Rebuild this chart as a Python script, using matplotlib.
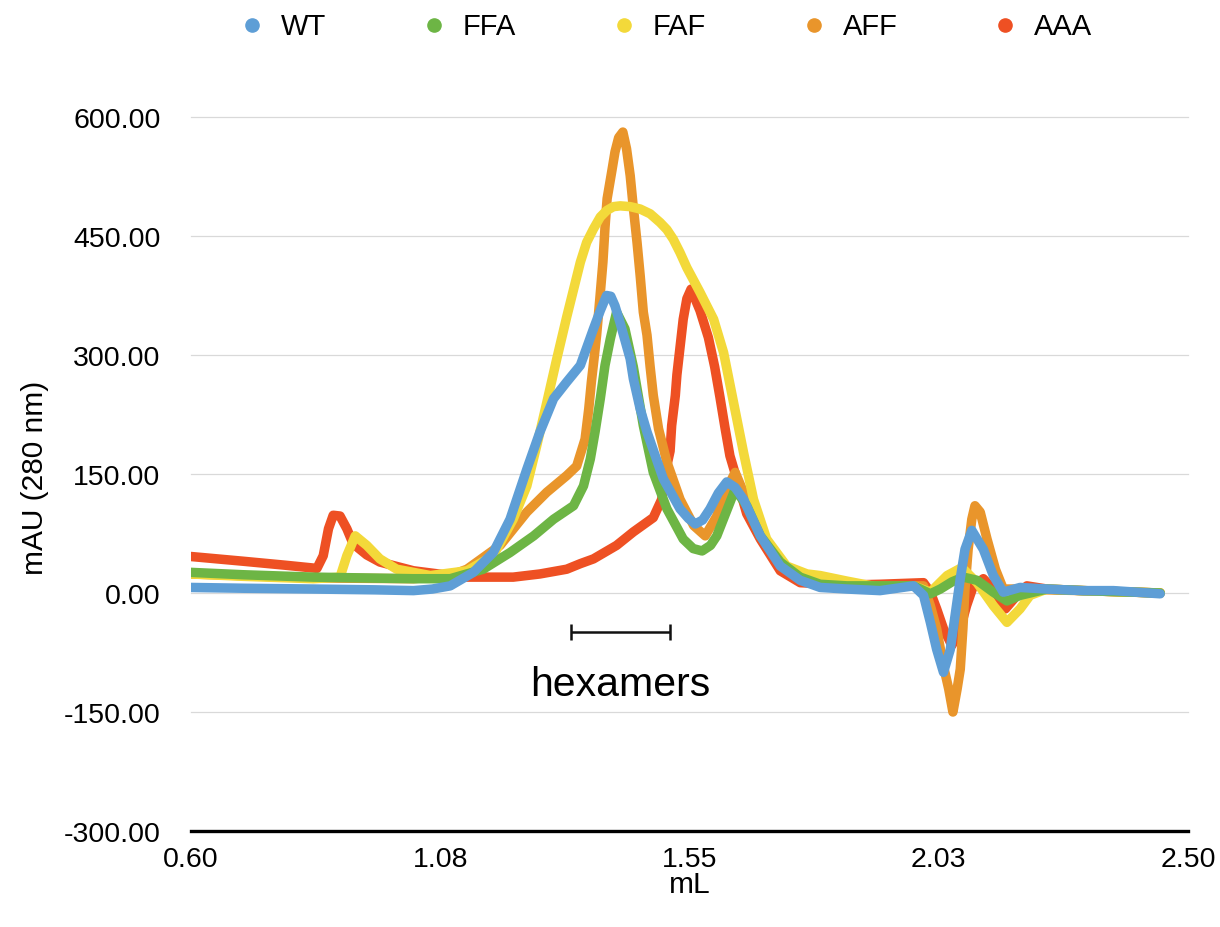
import matplotlib
matplotlib.use("Agg")
import matplotlib.pyplot as plt
from matplotlib.lines import Line2D

# ---------------- data ----------------
wt_x = [0.600, 0.700, 0.833, 0.950, 1.024, 1.060, 1.094, 1.138, 1.176, 1.208, 1.240, 1.265,
        1.291, 1.316, 1.342, 1.367, 1.380, 1.392, 1.400, 1.408, 1.418, 1.437, 1.443, 1.456,
        1.469, 1.500, 1.532, 1.548, 1.561, 1.575, 1.589, 1.605, 1.621, 1.637, 1.653, 1.685,
        1.723, 1.761, 1.799, 1.850, 1.913, 1.977, 1.996, 2.009, 2.021, 2.034, 2.047, 2.056,
        2.066, 2.075, 2.088, 2.110, 2.129, 2.148, 2.180, 2.231, 2.300, 2.358, 2.447]
wt_y = [7, 6, 5, 4, 3, 5, 9, 26, 51, 93, 156, 203,
        245, 266, 287, 333, 356, 375, 374, 362, 340, 295, 270, 232,
        203, 144, 106, 94, 87, 92, 106, 126, 140, 133, 118, 72,
        34, 16, 7, 5, 3, 9, -3, -37, -71, -100, -71, -29,
        18, 55, 79, 55, 22, 1, 7, 5, 3, 3, -1]

ffa_x = [0.600, 0.700, 0.833, 1.024, 1.094, 1.157, 1.208, 1.253, 1.291, 1.329, 1.348, 1.361,
         1.370, 1.380, 1.389, 1.399, 1.411, 1.427, 1.443, 1.462, 1.481, 1.507, 1.538, 1.557,
         1.574, 1.590, 1.602, 1.627, 1.637, 1.659, 1.685, 1.723, 1.761, 1.799, 1.850, 1.913,
         1.977, 2.009, 2.028, 2.050, 2.072, 2.098, 2.129, 2.155, 2.180, 2.231, 2.300, 2.447]
ffa_y = [26, 23, 20, 18, 18, 30, 51, 72, 93, 110, 135, 169,
         203, 245, 287, 320, 354, 333, 285, 211, 152, 106, 68, 56,
         53, 60, 72, 114, 131, 110, 72, 39, 20, 11, 9, 9,
         9, -1, 5, 14, 20, 16, 1, -10, -3, 5, 3, 0]

faf_x = [0.600, 0.700, 0.833, 0.884, 0.897, 0.913, 0.935, 0.960, 0.992, 1.056, 1.126, 1.176,
         1.214, 1.240, 1.259, 1.278, 1.297, 1.316, 1.342, 1.354, 1.367, 1.380, 1.392, 1.405,
         1.418, 1.437, 1.456, 1.475, 1.494, 1.507, 1.519, 1.532, 1.545, 1.570, 1.596, 1.615,
         1.634, 1.653, 1.672, 1.697, 1.735, 1.774, 1.799, 1.850, 1.913, 1.977, 2.009, 2.041,
         2.069, 2.098, 2.129, 2.155, 2.180, 2.199, 2.231, 2.300, 2.447]
faf_y = [24, 21, 18, 20, 47, 72, 60, 43, 30, 22, 28, 47,
         93, 135, 186, 240, 295, 348, 417, 442, 459, 474, 482, 487,
         488, 487, 484, 478, 467, 458, 446, 429, 410, 379, 345, 303,
         240, 177, 118, 68, 34, 24, 22, 15, 7, 9, 1, 22,
         32, 13, -16, -37, -20, -3, 5, 3, 0]

aff_x = [0.600, 0.833, 1.024, 1.094, 1.126, 1.189, 1.240, 1.278, 1.316, 1.335, 1.351, 1.358,
         1.363, 1.368, 1.373, 1.379, 1.385, 1.389, 1.393, 1.402, 1.408, 1.415, 1.423, 1.430,
         1.437, 1.442, 1.450, 1.456, 1.462, 1.469, 1.475, 1.481, 1.491, 1.507, 1.532, 1.558,
         1.580, 1.602, 1.621, 1.637, 1.653, 1.672, 1.697, 1.735, 1.774, 1.850, 1.913, 1.996,
         2.009, 2.021, 2.034, 2.044, 2.052, 2.060, 2.066, 2.071, 2.075, 2.081, 2.088, 2.094,
         2.104, 2.117, 2.133, 2.148, 2.180, 2.231, 2.300, 2.447]
aff_y = [24, 19, 18, 22, 30, 60, 102, 127, 148, 160, 194, 232,
         266, 295, 325, 370, 417, 461, 497, 532, 556, 574, 581, 560,
         526, 492, 442, 400, 354, 325, 285, 249, 207, 165, 118, 85,
         72, 97, 131, 152, 127, 95, 60, 30, 17, 10, 9, 9,
         -16, -45, -92, -121, -150, -121, -96, -45, 5, 55, 93, 110,
         102, 68, 30, 5, 5, 4, 3, 0]

aaa_x = [0.600, 0.700, 0.780, 0.840, 0.852, 0.862, 0.871, 0.884, 0.897, 0.909, 0.935, 0.960,
         1.024, 1.119, 1.214, 1.265, 1.316, 1.342, 1.367, 1.411, 1.443, 1.481, 1.497, 1.504,
         1.513, 1.516, 1.523, 1.526, 1.532, 1.538, 1.545, 1.553, 1.570, 1.586, 1.598, 1.608,
         1.618, 1.627, 1.640, 1.659, 1.685, 1.723, 1.761, 1.850, 1.913, 1.996, 2.009, 2.021,
         2.034, 2.050, 2.066, 2.078, 2.091, 2.110, 2.129, 2.152, 2.174, 2.193, 2.231, 2.300,
         2.447]
aaa_y = [46, 40, 35, 31, 47, 81, 98, 97, 81, 62, 48, 39,
         28, 20, 20, 24, 30, 37, 43, 60, 77, 95, 118, 152,
         179, 211, 249, 275, 310, 345, 371, 383, 356, 322, 285, 247,
         207, 173, 144, 100, 68, 28, 13, 10, 11, 13, 1, -20,
         -45, -66, -45, -16, 9, 18, 5, -20, -3, 9, 5, 3,
         0]

series_names = ["WT", "FFA", "FAF", "AFF", "AAA"]
series_colors = ["#5E9ED6", "#6DB545", "#F3D93A", "#E9952B", "#EE5023"]
series_data = [(wt_x, wt_y), (ffa_x, ffa_y), (faf_x, faf_y), (aff_x, aff_y), (aaa_x, aaa_y)]

xticks = [0.60, 1.075, 1.55, 2.025, 2.50]
xtick_labels = ["0.60", "1.08", "1.55", "2.03", "2.50"]
yticks = [-300, -150, 0, 150, 300, 450, 600]

hex_range = [1.3246, 1.5133]
hex_level = -48.8
hex_text = "hexamers"

# ---------------- figure ----------------
plt.rcParams['font.family'] = ['Liberation Sans', 'DejaVu Sans']

W, H = 1220, 928
fig = plt.figure(figsize=(W / 100, H / 100), dpi=100)
ax = fig.add_axes([191 / W, 1 - 832 / H, (1188 - 191) / W, (832 - 118) / H])

lw_pt = 9.5 * 72 / 100
# draw last series first so WT ends up on top
for (xs, ys), c in list(zip(series_data, series_colors))[::-1]:
    ax.plot(xs, ys, color=c, lw=lw_pt, solid_capstyle='round', solid_joinstyle='round')

ax.set_xlim(0.60, 2.50)
ax.set_ylim(-300, 600)
ax.set_xticks(xticks)
ax.set_xticklabels(xtick_labels)
ax.set_yticks(yticks)
ax.set_yticklabels([f"{v:.2f}" for v in yticks])
ax.tick_params(axis='both', length=0, labelsize=20.5, colors='black')
ax.tick_params(axis='y', pad=22)
ax.tick_params(axis='x', pad=10.5)

for s in ['top', 'right', 'left']:
    ax.spines[s].set_visible(False)
ax.spines['bottom'].set_color('black')
ax.spines['bottom'].set_linewidth(2.4)

ax.set_axisbelow(True)
ax.grid(axis='y', color='#d9d9d9', lw=0.9)
ax.grid(axis='x', visible=False)
for gl in ax.get_ygridlines():
    gl.set_clip_on(False)

# hexamers bar
ax.plot(hex_range, [hex_level, hex_level], color='#111111', lw=1.8, solid_capstyle='butt')
for xv in hex_range:
    ax.plot([xv, xv], [hex_level - 10, hex_level + 10], color='#111111', lw=1.8,
            solid_capstyle='butt')
ax.text(sum(hex_range) / 2, -128.6, hex_text, ha='center', va='baseline', fontsize=29.5)

# axis labels
fig.text(35 / W, 1 - 478 / H, "mAU (280 nm)", rotation=90, ha='center', va='center', fontsize=21.5)
fig.text(690 / W, 1 - 885 / H, "mL", ha='center', va='center', fontsize=21.5)

# legend
legend_px = [252, 434, 624, 814, 1005]
for px, name, c in zip(legend_px, series_names, series_colors):
    fig.add_artist(Line2D([px / W], [1 - 26 / H], marker='o', markersize=9.5,
                          color=c, linestyle='none', transform=fig.transFigure))
    fig.text((px + 29) / W, 1 - 27 / H, name, ha='left', va='center', fontsize=21)

fig.savefig("out.png", dpi=100)
